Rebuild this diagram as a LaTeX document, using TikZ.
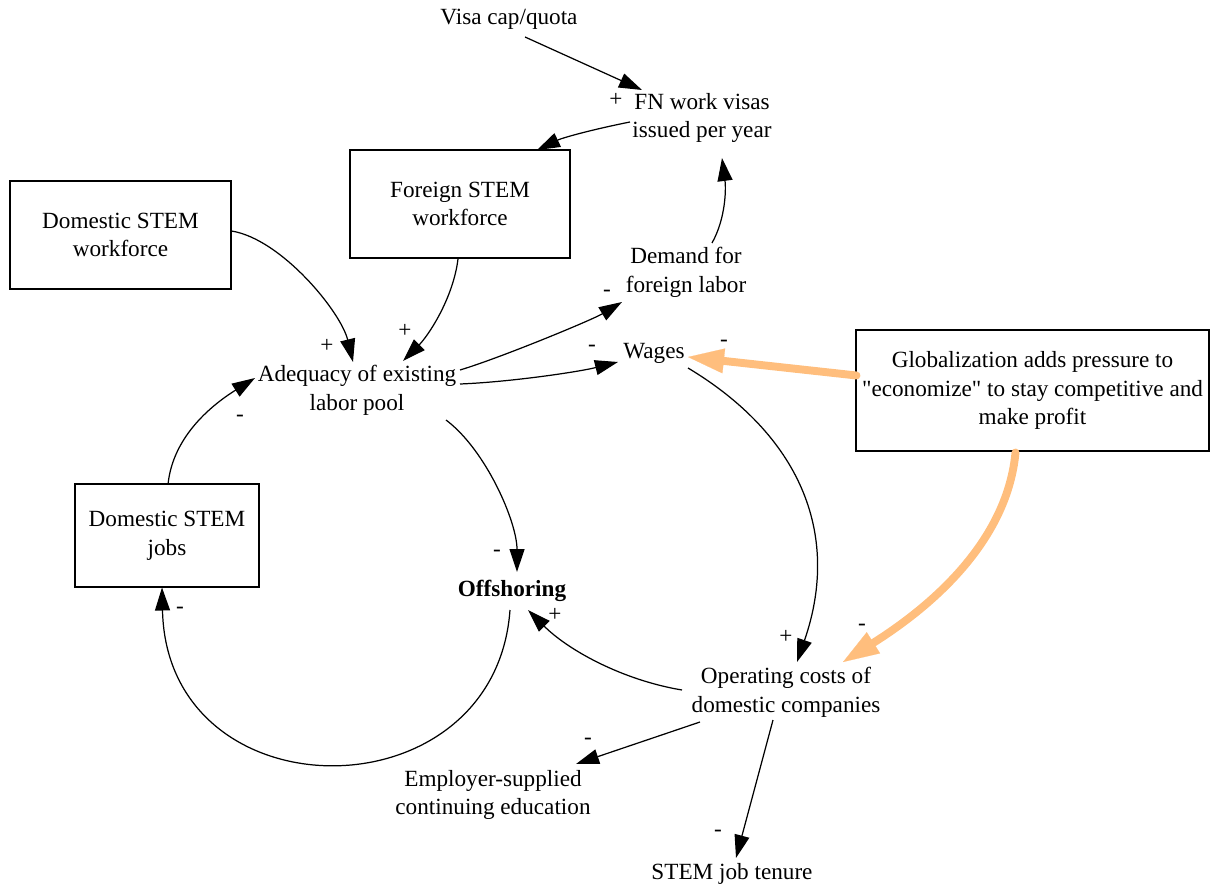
\documentclass[tikz,border=0pt]{standalone}
\usepackage{fontspec}
\setmainfont{Liberation Serif}
\usetikzlibrary{shapes,arrows.meta,positioning}
\definecolor{peach}{RGB}{255,190,125}

\begin{document}
\begin{tikzpicture}[
    x=0.02cm, y=-0.02cm,
    var/.style={align=center, inner sep=1pt, font=\fontsize{13.2}{16.4}\selectfont},
    stock/.style={var, rectangle, draw, line width=0.7pt},
    sign/.style={inner sep=0pt, font=\fontsize{13.2}{16.4}\selectfont},
    link/.style={line width=0.7pt, -{Triangle[length=0.46cm, width=0.3cm]}},
    pressurelink/.style={line width=4.5pt, peach, line cap=round, -{Triangle[length=0.72cm, width=0.5cm, line width=0.1pt]}}
]
\useasboundingbox (0,0) rectangle (1210,888);

% Visa policy (top)
\node[var] (visa) at (509,19) {Visa cap/quota};
\node[var] (fnvisas) at (702,118) {FN work visas\\issued per year};
\node[var] (demand) at (686,272) {Demand for\\foreign labor};

% Workforce stocks
\node[stock, minimum width=4.4cm, minimum height=2.16cm] (foreign) at (460,204) {Foreign STEM\\workforce};
\node[stock, minimum width=4.42cm, minimum height=2.16cm] (domestic) at (120.5,235) {Domestic STEM\\workforce};
\node[stock, minimum width=3.68cm, minimum height=2.06cm] (jobs) at (167,535.5) {Domestic STEM\\jobs};

% Labor pool and wages
\node[var] (adequacy) at (357,390) {Adequacy of existing\\labor pool};
\node[var] (wages) at (654,353) {Wages};

% Outside pressure
\node[stock, minimum width=7.06cm, minimum height=2.42cm] (glob) at (1032.5,390.5) {Globalization adds pressure to\\\textquotedbl economize\textquotedbl{} to stay competitive and\\make profit};

% Company side
\node[var, font=\fontsize{13.2}{16.4}\selectfont\bfseries] (offshoring) at (512,591) {Offshoring};
\node[var] (opcosts) at (786,692) {Operating costs of\\domestic companies};
\node[var] (employer) at (493,795) {Employer-supplied\\continuing education};
\node[var] (tenure) at (732,874) {STEM job tenure};

% Links
\draw[link] ([shift={(16,18)}]visa.center) -- ([shift={(-60,-28)}]fnvisas.center);
\draw[link] ([shift={(-72,4)}]fnvisas.center) .. controls +(-40,8) and +(25,-12) .. ([shift={(77,-54)}]foreign.center);
\draw[link] ([shift={(26,-29)}]demand.center) .. controls +(14,-25) and +(4,30) .. ([shift={(20,40)}]fnvisas.center);
\draw[link] ([shift={(111,-4)}]domestic.center) .. controls +(50,8) and +(-12,-50) .. ([shift={(-4,-28)}]adequacy.center);
\draw[link] ([shift={(-2,55)}]foreign.center) .. controls +(-5,40) and +(25,-25) .. ([shift={(46,-29)}]adequacy.center);
\draw[link] ([shift={(103,-20)}]adequacy.center) .. controls +(40,-12) and +(-30,18) .. ([shift={(-64,30)}]demand.center);
\draw[link] ([shift={(103,-6)}]adequacy.center) .. controls +(50,-2) and +(-40,10) .. ([shift={(-36,9)}]wages.center);
\draw[link] ([shift={(34,15)}]wages.center) .. controls +(110,66) and +(45,-130) .. ([shift={(11,-30)}]opcosts.center);
\draw[link] ([shift={(89,30)}]adequacy.center) .. controls +(40,30) and +(0,-50) .. ([shift={(5,-19)}]offshoring.center);
\draw[link] ([shift={(-104,-2)}]opcosts.center) .. controls +(-60,-10) and +(40,40) .. ([shift={(16,19)}]offshoring.center);
\draw[link] ([shift={(-2,19)}]offshoring.center) .. controls +(-15,208) and +(5,230) .. ([shift={(-5,52)}]jobs.center);
\draw[link] ([shift={(1,-51)}]jobs.center) .. controls +(5,-50) and +(-40,25) .. ([shift={(-102,-12)}]adequacy.center);
\draw[link] ([shift={(-86,30)}]opcosts.center) -- ([shift={(83,-31)}]employer.center);
\draw[link] ([shift={(-13,28)}]opcosts.center) -- ([shift={(4,-16)}]tenure.center);

% Globalization pressure
\draw[pressurelink] ([shift={(-176,-15)}]glob.center) -- ([shift={(34,4)}]wages.center);
\draw[pressurelink] ([shift={(-17,62)}]glob.center) .. controls +(-8,85) and +(95,-60) .. ([shift={(57,-30)}]opcosts.center);

% Polarity signs
\node[sign] (s-visa) at (616,100) {+};
\node[sign] (s-domestic) at (327,346) {+};
\node[sign] (s-foreign) at (405,331) {+};
\node[sign] (s-demand) at (607,293) {-};
\node[sign] (s-wages) at (592,348) {-};
\node[sign] (s-globwages) at (724,343) {-};
\node[sign] (s-opcosts) at (786,637) {+};
\node[sign] (s-globcosts) at (862,627) {-};
\node[sign] (s-adqoff) at (497,553) {-};
\node[sign] (s-costoff) at (555,615) {+};
\node[sign] (s-jobs) at (180,610) {-};
\node[sign] (s-adequacy) at (240,418) {-};
\node[sign] (s-employer) at (588,741) {-};
\node[sign] (s-tenure) at (718,833) {-};

\end{tikzpicture}
\end{document}
